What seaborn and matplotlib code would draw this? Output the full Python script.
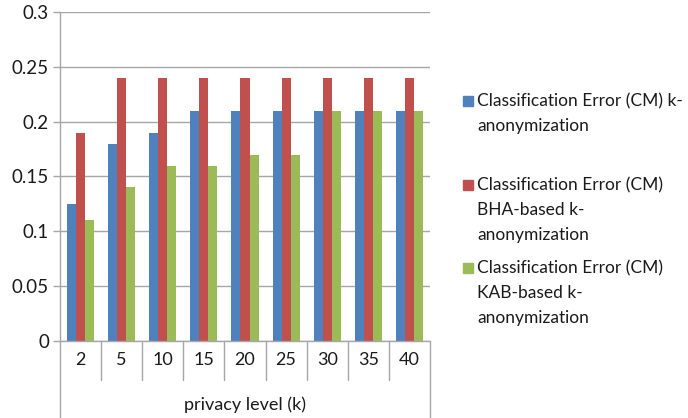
import matplotlib
matplotlib.use("Agg")
import numpy as np
import pandas as pd
import matplotlib.pyplot as plt
import seaborn as sns

# ── Data ──────────────────────────────────────────────────────────────────────
privacy_levels = ["2", "5", "10", "15", "20", "25", "30", "35", "40"]
series_names = [
    "Classification Error (CM) k-anonymization",
    "Classification Error (CM) BHA-based k-anonymization",
    "Classification Error (CM) KAB-based k-anonymization",
]
legend_lines = [
    ["Classification Error (CM) k-", "anonymization"],
    ["Classification Error (CM)", "BHA-based k-", "anonymization"],
    ["Classification Error (CM)", "KAB-based k-", "anonymization"],
]
err_k_anon = [0.125, 0.18, 0.19, 0.21, 0.21, 0.21, 0.21, 0.21, 0.21]
err_bha    = [0.19, 0.24, 0.24, 0.24, 0.24, 0.24, 0.24, 0.24, 0.24]
err_kab    = [0.11, 0.14, 0.16, 0.16, 0.17, 0.17, 0.21, 0.21, 0.21]
yticks = [0, 0.05, 0.1, 0.15, 0.2, 0.25, 0.3]
ytick_labels = ["0", "0.05", "0.1", "0.15", "0.2", "0.25", "0.3"]

colors = ["#4F81BD", "#C0504D", "#9BBB59"]
GRID = "#A6A6A6"
TXT = "#1A1A1A"

df = pd.DataFrame({
    "k": privacy_levels * 3,
    "series": np.repeat(series_names, len(privacy_levels)),
    "error": err_k_anon + err_bha + err_kab,
})

sns.set_theme(style="white")
plt.rcParams["font.family"] = ["Lato", "DejaVu Sans"]

fig = plt.figure(figsize=(6.88, 4.18), dpi=100)
ax = fig.add_axes([60 / 688, 77 / 418, 370 / 688, 329 / 418])

sns.barplot(data=df, x="k", y="error", hue="series", order=privacy_levels,
            hue_order=series_names, palette=colors, width=0.66, gap=0,
            saturation=1, linewidth=0, legend=False, ax=ax)

ax.set_ylim(0, 0.3)
ax.set_xlim(-0.5, len(privacy_levels) - 0.5)
ax.set_yticks(yticks)
ax.set_yticklabels(ytick_labels, fontsize=13.5, color=TXT)
ax.set_xticklabels(privacy_levels, fontsize=13, color=TXT)
ax.tick_params(axis="y", length=5, width=1, color=GRID, pad=3, left=True)
ax.tick_params(axis="x", length=0, pad=8)
ax.set_xlabel("")
ax.set_ylabel("")
ax.yaxis.grid(True, color=GRID, linewidth=1)
ax.set_axisbelow(True)
for s in ["top", "right"]:
    ax.spines[s].set_visible(False)
for s in ["left", "bottom"]:
    ax.spines[s].set_color(GRID)
    ax.spines[s].set_linewidth(1)

# table-style category separators below the axis
trans = ax.get_xaxis_transform()
for b in np.arange(0.5, len(privacy_levels) - 0.5, 1.0):
    ax.plot([b, b], [0, -39 / 329], color=GRID, lw=1, transform=trans, clip_on=False)
for b in [-0.5, len(privacy_levels) - 0.5]:
    ax.plot([b, b], [0, -80 / 329], color=GRID, lw=1, transform=trans, clip_on=False)
ax.text(0.5, -64 / 329, "privacy level (k)", transform=ax.transAxes,
        ha="center", va="center", fontsize=13, color=TXT)

# legend drawn as Excel-style wrapped entries
entry_tops = [101, 185, 268]
for lines, col, top in zip(legend_lines, colors, entry_tops):
    fig.patches.append(plt.Rectangle((463 / 688, 1 - (top + 5) / 418), 10 / 688, 10 / 418,
                                     transform=fig.transFigure, color=col))
    for i, line in enumerate(lines):
        fig.text(477 / 688, 1 - (top + 25 * i) / 418, line, ha="left", va="center",
                 fontsize=12.5, color=TXT)

fig.savefig("out.png", dpi=100)
